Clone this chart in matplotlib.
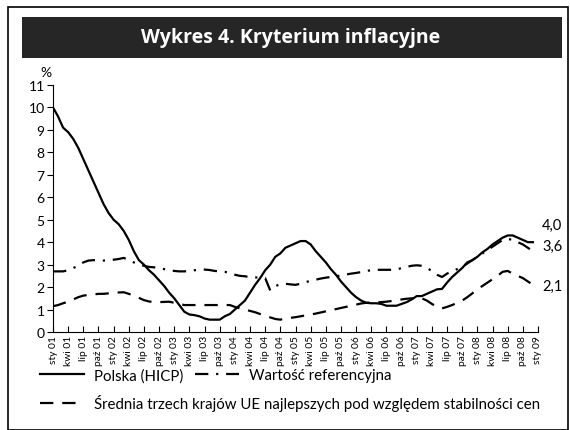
import matplotlib.pyplot as plt
from matplotlib.patches import Rectangle

plt.rcParams['font.family'] = ['Lato', 'DejaVu Sans']

# monthly data, sty 2001 - gru 2008
polska = [10.0, 9.6, 9.1, 8.9, 8.6, 8.2, 7.7, 7.2, 6.7, 6.2, 5.7, 5.3,
          5.0, 4.8, 4.5, 4.1, 3.6, 3.2, 3.0, 2.75, 2.55, 2.3, 2.05, 1.75,
          1.5, 1.2, 0.9, 0.78, 0.75, 0.7, 0.6, 0.55, 0.55, 0.55, 0.7, 0.8,
          1.0, 1.2, 1.4, 1.75, 2.1, 2.4, 2.75, 3.0, 3.35, 3.5, 3.75, 3.85,
          3.95, 4.05, 4.05, 3.9, 3.6, 3.35, 3.1, 2.8, 2.55, 2.25, 2.0, 1.75,
          1.55, 1.4, 1.3, 1.28, 1.28, 1.25, 1.17, 1.17, 1.17, 1.25, 1.33, 1.45,
          1.6, 1.6, 1.7, 1.8, 1.9, 1.92, 2.2, 2.45, 2.65, 2.85, 3.1, 3.2,
          3.35, 3.55, 3.7, 3.9, 4.05, 4.2, 4.3, 4.3, 4.2, 4.1, 4.0, 4.0]

referencyjna = [2.7, 2.7, 2.7, 2.75, 2.85, 2.95, 3.1, 3.18, 3.2, 3.18, 3.18, 3.2,
                3.22, 3.25, 3.3, 3.2, 3.1, 3.0, 2.95, 2.9, 2.88, 2.85, 2.8, 2.75,
                2.72, 2.7, 2.7, 2.72, 2.75, 2.78, 2.78, 2.76, 2.72, 2.7, 2.68, 2.62,
                2.55, 2.5, 2.48, 2.45, 2.43, 2.42, 2.4, 1.85, 2.05, 2.12, 2.15, 2.12,
                2.1, 2.15, 2.22, 2.28, 2.33, 2.38, 2.42, 2.45, 2.48, 2.52, 2.56, 2.6,
                2.63, 2.67, 2.72, 2.75, 2.77, 2.77, 2.77, 2.77, 2.78, 2.85, 2.9, 2.95,
                2.97, 2.95, 2.85, 2.72, 2.55, 2.45, 2.6, 2.7, 2.8, 2.9, 3.05, 3.2,
                3.35, 3.5, 3.65, 3.8, 3.95, 4.1, 4.15, 4.1, 4.0, 3.9, 3.75, 3.6]

srednia = [1.15, 1.2, 1.28, 1.35, 1.45, 1.55, 1.62, 1.65, 1.67, 1.7, 1.7, 1.72,
           1.74, 1.76, 1.77, 1.7, 1.62, 1.52, 1.42, 1.36, 1.33, 1.33, 1.34, 1.35,
           1.3, 1.25, 1.2, 1.2, 1.2, 1.2, 1.2, 1.2, 1.2, 1.2, 1.2, 1.2,
           1.12, 1.05, 1.0, 0.94, 0.88, 0.8, 0.72, 0.65, 0.58, 0.55, 0.6, 0.63,
           0.66, 0.7, 0.74, 0.78, 0.82, 0.87, 0.92, 0.97, 1.02, 1.07, 1.12, 1.17,
           1.22, 1.27, 1.3, 1.31, 1.32, 1.33, 1.35, 1.38, 1.42, 1.45, 1.48, 1.5,
           1.52, 1.5, 1.4, 1.25, 1.12, 1.05, 1.12, 1.2, 1.3, 1.4, 1.55, 1.72,
           1.9, 2.05, 2.2, 2.35, 2.5, 2.68, 2.72, 2.6, 2.5, 2.4, 2.25, 2.1]

miesiace = ['sty', 'kwi', 'lip', 'paź']
tick_labels = [f'{m} {y:02d}' for y in range(1, 9) for m in miesiace] + ['sty 09']
end_labels = ['4,0', '3,6', '2,1']
end_label_y = [4.75, 3.85, 2.05]

fig = plt.figure(figsize=(5.7, 4.31), dpi=100)

# frame and title band
fig.patches.append(Rectangle((8 / 570, 0), 560 / 570, 423 / 431, transform=fig.transFigure,
                             fill=False, edgecolor='black', linewidth=1.2))
fig.patches.append(Rectangle((22 / 570, 1 - 59 / 431), 540 / 570, 41 / 431,
                             transform=fig.transFigure, facecolor='#262626', edgecolor='none'))
fig.text(291 / 570, 1 - 38 / 431, 'Wykres 4. Kryterium inflacyjne', color='white',
         fontsize=14, fontweight='bold', ha='center', va='center', family='Open Sans')

ax = fig.add_axes([53 / 570, 1 - 333 / 431, 485 / 570, 247 / 431])
x = list(range(len(polska)))
l1, = ax.plot(x, polska, color='black', lw=1.6, label='Polska (HICP)')
l2, = ax.plot(x, referencyjna, color='black', lw=1.6, dashes=(6, 3.5, 1, 3.5),
              label='Wartość referencyjna')
l3, = ax.plot(x, srednia, color='black', lw=1.6, dashes=(6, 4),
              label='Średnia trzech krajów UE najlepszych pod względem stabilności cen')

ax.set_xlim(0, 96)
ax.set_ylim(0, 11)
ax.set_yticks(range(12))
ax.set_xticks(range(0, 97, 3))
ax.set_xticklabels(tick_labels, rotation=90, fontsize=7.4)
ax.tick_params(axis='y', direction='out', length=4, labelsize=10, pad=2)
ax.tick_params(axis='x', direction='in', length=4, pad=2)
for s in ['top', 'right']:
    ax.spines[s].set_visible(False)
ax.text(-0.014, 1.03, '%', transform=ax.transAxes, fontsize=10, ha='center', va='bottom')

for lab, yv in zip(end_labels, end_label_y):
    ax.text(96.8, yv, lab, fontsize=10.5, ha='left', va='center', clip_on=False)

fig.legend(handles=[l1, l2], loc='upper left', bbox_to_anchor=(40 / 570, 1 - 369 / 431),
           ncol=2, frameon=False, fontsize=10.8, handlelength=2.9, handletextpad=0.7,
           columnspacing=0.8, borderaxespad=0, borderpad=0)
fig.legend(handles=[l3], loc='upper left', bbox_to_anchor=(40 / 570, 1 - 395 / 431),
           frameon=False, fontsize=10.8, handlelength=2.9, handletextpad=0.7,
           borderaxespad=0, borderpad=0)

fig.savefig('out.png', dpi=100)
